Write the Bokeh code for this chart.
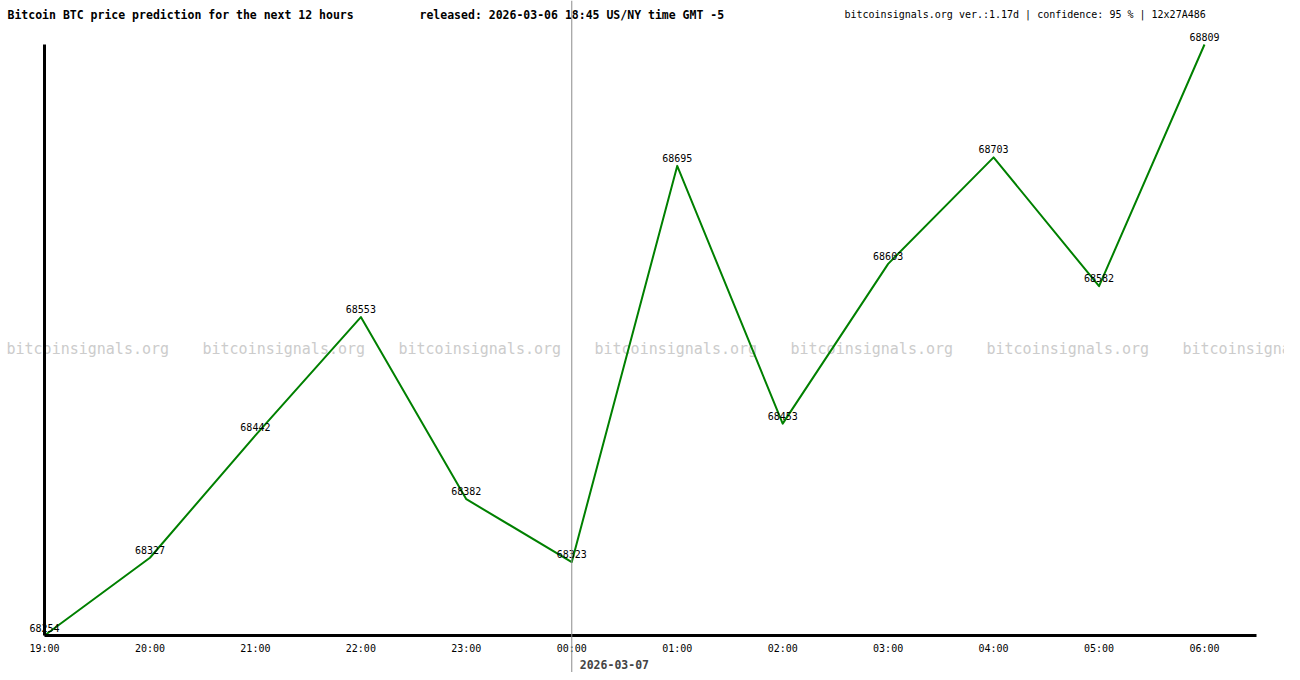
from bokeh.plotting import figure
from bokeh.models import (Range1d, FixedTicker, ColumnDataSource, LabelSet, Label,
                          Span, LinearAxis)
from bokeh.core.properties import value
from bokeh.embed import file_html
from bokeh.resources import INLINE

# prediction data
hours = ["19:00", "20:00", "21:00", "22:00", "23:00", "00:00",
         "01:00", "02:00", "03:00", "04:00", "05:00", "06:00"]
prices = [68254, 68327, 68442, 68553, 68382, 68323,
          68695, 68453, 68603, 68703, 68582, 68809]
day_change = hours.index("00:00")
new_date = "2026-03-07"

title_left = "Bitcoin BTC price prediction for the next 12 hours"
title_mid = "released: 2026-03-06 18:45 US/NY time GMT -5"
title_right = "bitcoinsignals.org ver.:1.17d | confidence: 95 % | 12x27A486"
watermark = "bitcoinsignals.org"

MONO = "DejaVu Sans Mono"
W, H = 1284, 672
# plot area inside the canvas (pixels)
LEFT, RIGHT_LAST, AXIS_END, TOP, BOTTOM = 44, 1204, 1256, 44, 635

xs = list(range(len(hours)))
src = ColumnDataSource(data=dict(x=xs, y=prices, label=[str(v) for v in prices]))

# ranges padded so the frame covers the whole canvas
px_x = (RIGHT_LAST - LEFT) / (len(hours) - 1)
px_y = (BOTTOM - TOP) / (max(prices) - min(prices))
x_range = Range1d(-LEFT / px_x, len(hours) - 1 + (W - RIGHT_LAST) / px_x)
y_range = Range1d(min(prices) - (H - BOTTOM) / px_y, max(prices) + TOP / px_y)

p = figure(width=W, height=H, output_backend="svg", toolbar_location=None, tools="",
           x_range=x_range, y_range=y_range,
           x_axis_location=None, y_axis_location=None, min_border=0)
p.background_fill_color = "white"
p.border_fill_color = "white"
p.outline_line_color = None
p.xgrid.grid_line_color = None
p.ygrid.grid_line_color = None

ax = LinearAxis(fixed_location=min(prices), bounds=(0, (AXIS_END - LEFT) / px_x))
ax.ticker = FixedTicker(ticks=xs)
ax.major_label_overrides = {i: h for i, h in enumerate(hours)}
ax.axis_line_width = 3
ax.axis_line_color = "black"
ax.major_tick_line_color = None
ax.minor_tick_line_color = None
ax.major_label_standoff = 1
ax.major_label_text_font = MONO
ax.major_label_text_font_size = "10px"
ax.major_label_text_color = "black"
p.add_layout(ax, "below")

ay = LinearAxis(fixed_location=0, bounds=(min(prices), max(prices)))
ay.ticker = FixedTicker(ticks=[])
ay.axis_line_width = 3
ay.axis_line_color = "black"
ay.major_tick_line_color = None
ay.minor_tick_line_color = None
p.add_layout(ay, "left")

# watermark row
for k in range(7):
    p.add_layout(Label(x=6 + 196 * k, y=H - 348, x_units="screen", y_units="screen",
                       text=watermark, text_font=MONO, text_font_size="15px",
                       text_color="#cccccc", text_baseline="middle", level="underlay"))

p.line("x", "y", source=src, line_color="#008000", line_width=2, line_join="round")

# day boundary line
p.add_layout(Span(location=day_change, dimension="height", line_color="#8c8c8c",
                  line_width=1, level="overlay"))

p.add_layout(LabelSet(x="x", y="y", text="label", source=src, y_offset=8,
                      text_font=value(MONO), text_font_size="10px", text_color="black",
                      text_align="center", text_baseline="middle"))

p.add_layout(Label(x=day_change, y=H - 664, x_units="data", y_units="screen", x_offset=8,
                   text=new_date, text_font=MONO, text_font_size="11.5px",
                   text_font_style="bold", text_baseline="middle"))

# header texts
for tx, txt, style, size in [(7, title_left, "bold", "11.5px"),
                             (419, title_mid, "bold", "11.5px"),
                             (844, title_right, "normal", "10px")]:
    p.add_layout(Label(x=tx, y=H - 14, x_units="screen", y_units="screen", text=txt,
                       text_font=MONO, text_font_size=size, text_font_style=style,
                       text_baseline="middle", text_color="black"))

open("out.html", "w").write(file_html(p, INLINE))
